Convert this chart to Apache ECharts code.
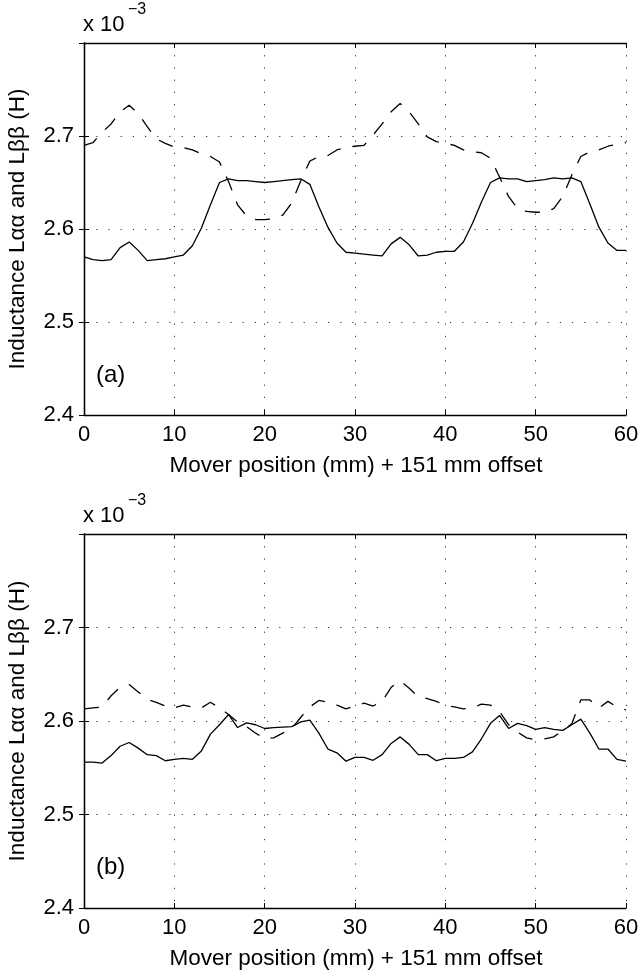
<!DOCTYPE html>
<html><head><meta charset="utf-8">
<script src="https://cdn.jsdelivr.net/npm/echarts@6/dist/echarts.min.js"></script>
<style>html,body{margin:0;padding:0;background:#fff}#c{width:640px;height:977px}</style>
</head><body><div id="c"></div>
<script>
// Mover position (mm) + 151 mm offset
const positions = [0,1,2,3,4,5,6,7,8,9,10,11,12,13,14,15,16,17,18,19,20,21,22,23,24,25,26,27,28,29,30,31,32,33,34,35,36,37,38,39,40,41,42,43,44,45,46,47,48,49,50,51,52,53,54,55,56,57,58,59,60];
const xTickValues = [0,10,20,30,40,50,60];
const yTickLabels = ['2.4','2.5','2.6','2.7'];
// Panel (a), inductance x 10^-3 H
const aSolid = [2.570,2.567,2.566,2.567,2.580,2.586,2.577,2.566,2.567,2.568,2.570,2.572,2.582,2.601,2.626,2.650,2.654,2.652,2.652,2.651,2.650,2.651,2.652,2.653,2.654,2.648,2.624,2.602,2.585,2.575,2.574,2.573,2.572,2.571,2.584,2.591,2.583,2.571,2.572,2.575,2.576,2.576,2.586,2.606,2.629,2.650,2.655,2.654,2.654,2.651,2.652,2.653,2.655,2.654,2.655,2.651,2.627,2.602,2.585,2.577,2.577];
const aDashed = [2.690,2.693,2.704,2.713,2.726,2.733,2.724,2.710,2.697,2.692,2.688,2.6875,2.685,2.681,2.678,2.672,2.651,2.626,2.614,2.610,2.610,2.611,2.615,2.628,2.652,2.673,2.678,2.679,2.685,2.688,2.689,2.690,2.701,2.713,2.726,2.735,2.726,2.713,2.699,2.694,2.692,2.690,2.685,2.683,2.682,2.676,2.656,2.635,2.622,2.619,2.618,2.618,2.622,2.635,2.658,2.678,2.683,2.685,2.689,2.691,2.693];
// Panel (b)
const bSolid = [2.556,2.556,2.555,2.563,2.573,2.577,2.571,2.564,2.563,2.5575,2.559,2.560,2.559,2.568,2.586,2.596,2.607,2.593,2.598,2.596,2.592,2.593,2.5935,2.594,2.599,2.601,2.587,2.570,2.566,2.557,2.561,2.561,2.558,2.564,2.576,2.583,2.575,2.564,2.564,2.5575,2.560,2.560,2.561,2.567,2.581,2.5975,2.606,2.592,2.5975,2.595,2.591,2.593,2.591,2.590,2.596,2.602,2.587,2.570,2.570,2.559,2.557];
const bDashed = [2.613,2.614,2.615,2.627,2.636,2.639,2.631,2.623,2.620,2.616,2.614,2.617,2.615,2.614,2.620,2.614,2.607,2.599,2.594,2.587,2.581,2.582,2.587,2.592,2.604,2.615,2.622,2.620,2.617,2.613,2.616,2.619,2.616,2.621,2.636,2.643,2.635,2.626,2.624,2.621,2.617,2.615,2.613,2.614,2.618,2.617,2.610,2.596,2.588,2.582,2.580,2.581,2.583,2.590,2.597,2.6225,2.6225,2.614,2.621,2.615,2.612];

const FONT = '"Liberation Sans", Arial, Helvetica, sans-serif';
const FS = 22;
const chart = echarts.init(document.getElementById('c'), null, {renderer: 'canvas'});
function pairs(ys) { return positions.map((x, i) => [x, ys[i]]); }
const grids = [
  {left: 84, top: 43, width: 542, height: 372, containLabel: false, outerBoundsMode: 'none'},
  {left: 84, top: 534, width: 542, height: 374, containLabel: false, outerBoundsMode: 'none'}
];
const lineAxis = {lineStyle: {color: '#000', width: 1.3}};
const dotted = {show: true, lineStyle: {color: '#333', width: 1, type: [1.2, 11]}};
const xAxes = [], yAxes = [];
[0, 1].forEach(g => {
  xAxes.push({type: 'value', gridIndex: g, position: 'bottom', min: 0, max: 60, interval: 10,
    axisLine: lineAxis, axisTick: {show: true, inside: true, length: 5, lineStyle: {color: '#000', width: 1}},
    axisLabel: {color: '#000', fontSize: FS, fontFamily: FONT, margin: 9,
      formatter: v => xTickValues.indexOf(v) >= 0 ? String(v) : ''},
    splitLine: dotted});
  xAxes.push({type: 'value', gridIndex: g, position: 'top', min: 0, max: 60, interval: 10,
    axisLine: lineAxis, axisTick: {show: true, inside: true, length: 5, lineStyle: {color: '#000', width: 1}},
    axisLabel: {show: false}, splitLine: {show: false}});
  yAxes.push({type: 'value', gridIndex: g, position: 'left', min: 2.4, max: 2.8, interval: 0.1,
    axisLine: lineAxis, axisTick: {show: true, inside: true, length: 5, lineStyle: {color: '#000', width: 1}},
    axisLabel: {color: '#000', fontSize: FS, fontFamily: FONT, margin: 10,
      formatter: v => { const s = v.toFixed(1); return yTickLabels.indexOf(s) >= 0 ? s : ''; }},
    splitLine: dotted});
  yAxes.push({type: 'value', gridIndex: g, position: 'right', min: 2.4, max: 2.8, interval: 0.1,
    axisLine: lineAxis, axisTick: {show: true, inside: true, length: 5, lineStyle: {color: '#000', width: 1}},
    axisLabel: {show: false}, splitLine: {show: false}});
});
function mkSeries(data, g, dashed) {
  return {type: 'line', xAxisIndex: g * 2, yAxisIndex: g * 2, data: pairs(data), showSymbol: false,
    symbol: 'none', silent: true,
    lineStyle: {color: '#000', width: 1.3, type: dashed ? [15, 12] : 'solid'}};
}
function txt(x, y, s, opts) {
  return Object.assign({type: 'text', x: x, y: y, silent: true,
    style: Object.assign({text: s, fill: '#000', font: FS + 'px ' + FONT, align: 'center', verticalAlign: 'middle'}, opts || {})});
}
const graphics = [];
[[43, 415, '(a)', 375], [534, 908, '(b)', 867]].forEach(([top, bot, lab, ly]) => {
  const mid = (top + bot) / 2;
  graphics.push(Object.assign(txt(18, mid, 'Inductance L\u03b1\u03b1 and L\u03b2\u03b2 (H)', {font: '22.5px ' + FONT}), {rotation: Math.PI / 2}));
  graphics.push(txt(356, bot + 51, 'Mover position (mm) + 151 mm offset', {font: '22.5px ' + FONT}));
  graphics.push(txt(83, top - 18, 'x 10', {align: 'left'}));
  graphics.push(txt(128, top - 33, '\u22123', {align: 'left', font: '16px ' + FONT}));
  graphics.push(txt(96, ly, lab, {align: 'left', font: '24px ' + FONT}));
});
chart.setOption({
  animation: false,
  backgroundColor: '#fff',
  grid: grids,
  xAxis: xAxes,
  yAxis: yAxes,
  series: [mkSeries(aSolid, 0, false), mkSeries(aDashed, 0, true), mkSeries(bSolid, 1, false), mkSeries(bDashed, 1, true)],
  graphic: graphics
});
</script></body></html>
